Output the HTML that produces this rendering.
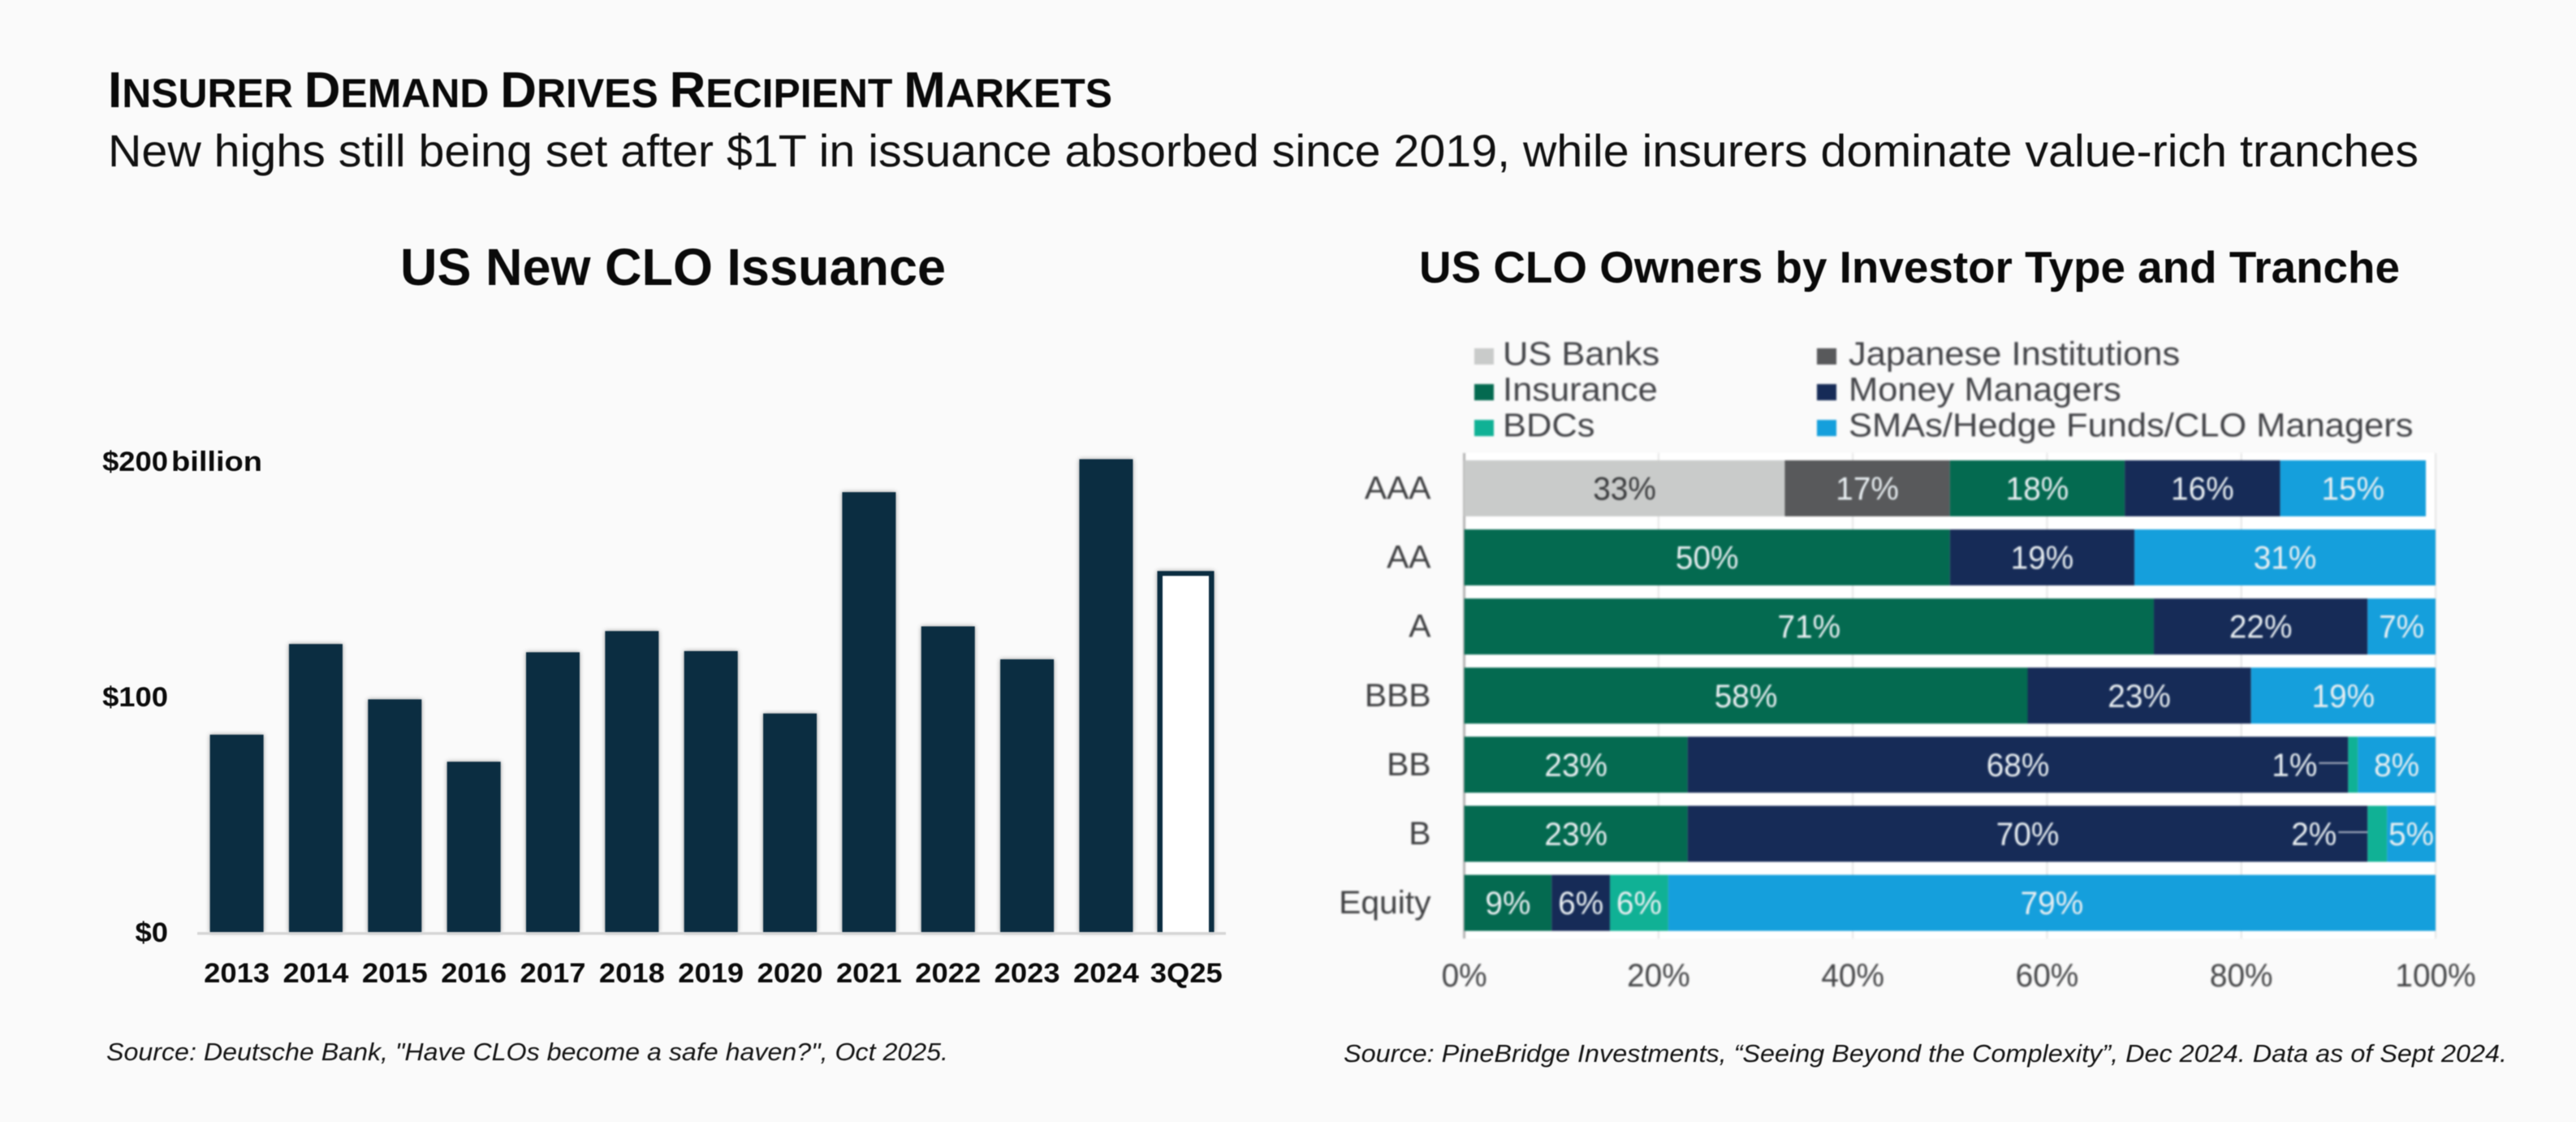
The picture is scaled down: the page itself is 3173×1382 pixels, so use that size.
<!DOCTYPE html>
<html lang="en">
<head>
<meta charset="utf-8">
<title>Insurer Demand Drives Recipient Markets</title>
<style>
  html, body { margin: 0; padding: 0; background: #fafafa; }
  svg { display: block; font-family: "Liberation Sans", sans-serif; }
  .head { fill: #0a0a0a; font-size: 50px; font-weight: 700; }
  .cap { font-size: 62px; font-weight: 700; }
  .sc { font-size: 50px; font-weight: 700; text-transform: uppercase; }
  .subtitle { font-size: 56px; fill: #111; }
  .chart-title-l { font-size: 64px; font-weight: 700; fill: #0a0a0a; }
  .chart-title-r { font-size: 55px; font-weight: 700; fill: #0a0a0a; }
  .source { font-size: 31px; font-style: italic; fill: #151515; }
  .soft { filter: blur(0.5px); }
  .fuzzy { filter: blur(1.1px); }
  .bars { filter: drop-shadow(0 0 3px rgba(0,0,0,.38)); }
  .bar { fill: #0b2d41; }
  .bar-inner { fill: #ffffff; }
  .axis-line { fill: #d6d6d6; }
  .left-tick { font-size: 34px; font-weight: 700; fill: #0c0c0c; }
  .plot-bg { fill: #ffffff; }
  .grid { stroke: #e6e6e6; stroke-width: 2; }
  .grid-zero { stroke: #b4b4b4; stroke-width: 3; }
  .seg0 { fill: #c9cbca; }
  .seg1 { fill: #58595b; }
  .seg2 { fill: #046a50; }
  .seg3 { fill: #162b57; }
  .seg4 { fill: #10b195; }
  .seg5 { fill: #159fdc; }
  .seg-label { font-size: 40px; fill: #e9eff2; }
  .seg-label.on-light { fill: #3a3b3d; }
  .leader { stroke: #aab2c2; stroke-width: 2; }
  .right-tick { font-size: 40px; fill: #454648; }
  .tranche-label { font-size: 40px; fill: #3f4042; }
  .legend-label { font-size: 41px; fill: #434448; }
</style>
</head>
<body>
<svg id="canvas" xmlns="http://www.w3.org/2000/svg" width="3173" height="1382" viewBox="0 0 3173 1382">
  <rect x="0" y="0" width="3173" height="1382" fill="#fafafa"/>
  <g class="soft">
    <text class="head" x="133" y="132" textLength="1237" lengthAdjust="spacingAndGlyphs"><tspan class="cap">I</tspan><tspan class="sc">nsurer</tspan> <tspan class="cap">D</tspan><tspan class="sc">emand</tspan> <tspan class="cap">D</tspan><tspan class="sc">rives</tspan> <tspan class="cap">R</tspan><tspan class="sc">ecipient</tspan> <tspan class="cap">M</tspan><tspan class="sc">arkets</tspan></text>
    <text class="subtitle" x="133" y="205" textLength="2846" lengthAdjust="spacingAndGlyphs">New highs still being set after $1T in issuance absorbed since 2019, while insurers dominate value-rich tranches</text>
    <text class="chart-title-l" x="493" y="351" textLength="672" lengthAdjust="spacingAndGlyphs">US New CLO Issuance</text>
    <text class="chart-title-r" x="1748" y="348" textLength="1208" lengthAdjust="spacingAndGlyphs">US CLO Owners by Investor Type and Tranche</text>
    <text class="source" x="131" y="1306" textLength="1037" lengthAdjust="spacingAndGlyphs">Source: Deutsche Bank, "Have CLOs become a safe haven?", Oct 2025.</text>
    <text class="source" x="1655" y="1308" textLength="1433" lengthAdjust="spacingAndGlyphs">Source: PineBridge Investments, “Seeing Beyond the Complexity”, Dec 2024. Data as of Sept 2024.</text>
  </g>
  <g id="issuance-chart" class="soft"></g>
  <g id="owners-chart" class="fuzzy"></g>
</svg>
<script>
// ---- US New CLO Issuance data ----
const years = ['2013','2014','2015','2016','2017','2018','2019','2020','2021','2022','2023','2024','3Q25'];
const issuance = [84, 122.5, 99, 72.5, 119, 128, 119.5, 93, 187, 130, 116, 201, 153.5];
const projectedYear = '3Q25';
const issuanceTicks = [0, 100, 200];
const issuanceTickLabels = ['$0', '$100', '$200'];
const issuanceUnit = 'billion';

// ---- US CLO Owners data (percent by tranche) ----
const tranches = ['AAA','AA','A','BBB','BB','B','Equity'];
const investorTypes = ['US Banks','Japanese Institutions','Insurance','Money Managers','BDCs','SMAs/Hedge Funds/CLO Managers'];
const usBanks       = [33, 0, 0, 0, 0, 0, 0];
const japanese      = [17, 0, 0, 0, 0, 0, 0];
const insurance     = [18, 50, 71, 58, 23, 23, 9];
const moneyManagers = [16, 19, 22, 23, 68, 70, 6];
const bdcs          = [0, 0, 0, 0, 1, 2, 6];
const smaHedgeClo   = [15, 31, 7, 19, 8, 5, 79];
const shareTicks = [0, 20, 40, 60, 80, 100];

const SVGNS = 'http://www.w3.org/2000/svg';
function make(parent, tag) {
  const node = document.createElementNS(SVGNS, tag);
  parent.appendChild(node);
  return node;
}
function setAttrs(node, attrs) {
  for (const k in attrs) node.setAttribute(k, attrs[k]);
  return node;
}
function placeText(node, x, y, anchor, stretch, cls, str) {
  node.setAttribute('transform', 'translate(' + x + ' ' + y + ') scale(' + stretch + ' 1)');
  node.setAttribute('text-anchor', anchor);
  node.setAttribute('class', cls);
  node.textContent = str;
}

// ---- Left chart ----
(function () {
  const root = document.getElementById('issuance-chart');
  const baseY = 1148.5, unit = 2.9;
  const slot0 = 291.6, slotStep = 97.35, barW = 66;
  const y = v => baseY - unit * v;
  const xc = i => slot0 + slotStep * i;

  const barGroup = make(root, 'g');
  barGroup.setAttribute('class', 'bars');
  
  

  issuance.forEach((v, i) => {
    const projected = years[i] === projectedYear;
    const w = projected ? barW + 4 : barW;
    const bar = make(barGroup, 'rect');
    setAttrs(bar, { x: xc(i) + (projected ? 0.7 : 0) - w / 2, y: y(v), width: w, height: baseY - y(v) });
    bar.setAttribute('class', 'bar');
    
    
    if (projected) {
      const inner = make(barGroup, 'rect');
      setAttrs(inner, { x: xc(i) + 0.7 - w / 2 + 6.5, y: y(v) + 6, width: w - 13, height: baseY - y(v) - 6 });
      inner.setAttribute('class', 'bar-inner');
      
      
    }
  });

  const axis = make(root, 'rect');
  setAttrs(axis, { x: 243, y: baseY - 0.5, width: 1267, height: 3.5 });
  axis.setAttribute('class', 'axis-line');
  
  

  years.forEach((label, i) => {
    const t = make(root, 'text');
    placeText(t, xc(i) + (label === projectedYear ? 1.5 : 0), 1210, 'middle', 1.07, 'left-tick', label);
    
    
  });

  issuanceTicks.forEach((v, i) => {
    const t = make(root, 'text');
    placeText(t, 207, y(v) + 11.5, 'end', 1.07, 'left-tick', issuanceTickLabels[i]);
    
    
  });

  const unitLabel = make(root, 'text');
  placeText(unitLabel, 211, y(issuanceTicks[issuanceTicks.length - 1]) + 11.5, 'start', 1.12, 'left-tick', issuanceUnit);
  
  
})();

// ---- Right chart ----
(function () {
  const root = document.getElementById('owners-chart');
  const series = [usBanks, japanese, insurance, moneyManagers, bdcs, smaHedgeClo];
  const x0 = 1803.6, perPct = 11.964;
  const top0 = 567, bandStep = 85.1, bandH = 69;
  const x = p => x0 + perPct * p;
  const bandTop = i => top0 + bandStep * i;
  const plotTop = 558, plotBottom = 1156;

  const bg = make(root, 'rect');
  setAttrs(bg, { x: x(0), y: plotTop, width: x(100) - x(0), height: plotBottom - plotTop });
  bg.setAttribute('class', 'plot-bg');
  
  

  shareTicks.forEach(p => {
    const g = make(root, 'line');
    setAttrs(g, { x1: x(p), x2: x(p), y1: plotTop, y2: plotBottom });
    g.setAttribute('class', p === 0 ? 'grid-zero' : 'grid');
    
    

    const t = make(root, 'text');
    placeText(t, x(p), 1215, 'middle', 0.97, 'right-tick', p + '%');
    
    
  });

  tranches.forEach((name, i) => {
    const t = make(root, 'text');
    placeText(t, 1762.5, bandTop(i) + bandH / 2 + 13, 'end', 1.02, 'tranche-label', name);
    
    

    let cum = 0;
    series.forEach((values, s) => {
      const v = values[i];
      if (!v) return;
      const seg = make(root, 'rect');
      setAttrs(seg, { x: x(cum), y: bandTop(i), width: x(cum + v) - x(cum), height: bandH });
      seg.setAttribute('class', 'seg' + s);
      
      
      cum += v;
    });

    cum = 0;
    series.forEach((values, s) => {
      const v = values[i];
      if (!v) return;
      const cy = bandTop(i) + bandH / 2;
      const lab = make(root, 'text');
      const cls = 'seg-label' + (s === 0 ? ' on-light' : '');
      if (v <= 2) {
        const leader = make(root, 'line');
        setAttrs(leader, { x1: x(cum) - 36, x2: x(cum), y1: cy - 2, y2: cy - 2 });
        leader.setAttribute('class', 'leader');
        
        
        placeText(lab, x(cum) - 38, cy + 14, 'end', 0.97, cls, v + '%');
      } else {
        placeText(lab, x(cum + v / 2), cy + 14, 'middle', 0.97, cls, v + '%');
      }
      
      
      cum += v;
    });
  });

  investorTypes.forEach((name, i) => {
    const col = i % 2, row = Math.floor(i / 2);
    const sx = col === 0 ? 1816 : 2238;
    const sw = make(root, 'rect');
    setAttrs(sw, { x: sx, y: 429 + 44.1 * row, width: 24, height: 20 });
    sw.setAttribute('class', 'seg' + i);
    
    

    const t = make(root, 'text');
    placeText(t, sx + (col === 0 ? 35 : 39), 449.5 + 44.1 * row, 'start', 1.06, 'legend-label', name);
    
    
  });
})();
</script>
</body>
</html>
